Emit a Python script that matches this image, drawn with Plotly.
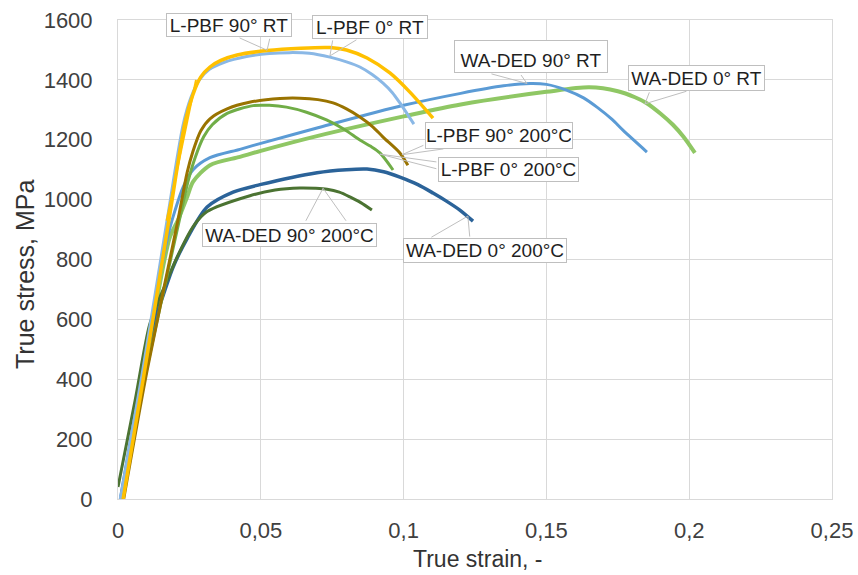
import plotly.graph_objects as go

# ---------------- data (true strain [-], true stress [MPa]) ----------------
lpbf90_rt_strain = [0.0018, 0.0090, 0.0178, 0.0235, 0.0262, 0.0290, 0.0322, 0.0360, 0.0417, 0.0522,
                    0.0640, 0.0742, 0.0800, 0.0872, 0.0952, 0.1022, 0.1103]
lpbf90_rt_stress = [0, 410, 930, 1260, 1350, 1410, 1443, 1465, 1483, 1498,
                    1506, 1508, 1500, 1473, 1423, 1359, 1272]
lpbf90_rt_elastic_strain = [0.0170, 0.0273]
lpbf90_rt_elastic_stress = [930, 1400]

lpbf0_rt_strain = [0.0008, 0.0085, 0.0170, 0.0228, 0.0255, 0.0285, 0.0320, 0.0370, 0.0450, 0.0530,
                   0.0600, 0.0670, 0.0742, 0.0800, 0.0847, 0.0890, 0.0928, 0.0960, 0.0987, 0.1036]
lpbf0_rt_stress = [0, 420, 920, 1250, 1340, 1400, 1435, 1458, 1478, 1488,
                   1491, 1489, 1476, 1460, 1443, 1418, 1389, 1358, 1323, 1252]

lpbf90_200_strain = [0.0020, 0.0100, 0.0210, 0.0242, 0.0262, 0.0290, 0.0322, 0.0382, 0.0460, 0.0567,
                     0.0637, 0.0700, 0.0753, 0.0800, 0.0847, 0.0890, 0.0928, 0.0987, 0.1015]
lpbf90_200_stress = [0, 420, 932, 1090, 1160, 1230, 1270, 1303, 1325, 1338,
                     1339, 1334, 1323, 1303, 1276, 1245, 1209, 1156, 1115]

lpbf0_200_strain = [0.0015, 0.0100, 0.0215, 0.0245, 0.0270, 0.0300, 0.0330, 0.0382, 0.0473, 0.0530,
                    0.0590, 0.0660, 0.0730, 0.0790, 0.0847, 0.0885, 0.0917, 0.0963]
lpbf0_200_stress = [0, 430, 932, 1060, 1140, 1210, 1250, 1288, 1314, 1315,
                    1309, 1292, 1266, 1236, 1199, 1178, 1156, 1099]

waded90_rt_strain = [0.0008, 0.0090, 0.0175, 0.0200, 0.0228, 0.0263, 0.0322, 0.0427, 0.0500, 0.0700,
                     0.1000, 0.1200, 0.1350, 0.1443, 0.1500, 0.1570, 0.1630, 0.1677, 0.1730,
                     0.1768, 0.1852]
waded90_rt_stress = [0, 450, 880, 965, 1042, 1100, 1140, 1168, 1188, 1240,
                     1315, 1355, 1380, 1388, 1385, 1366, 1340, 1309, 1268,
                     1232, 1159]

waded0_rt_strain = [0.0012, 0.0095, 0.0180, 0.0210, 0.0242, 0.0263, 0.0322, 0.0427, 0.0500, 0.0700,
                    0.1000, 0.1200, 0.1500, 0.1650, 0.1750, 0.1810, 0.1850, 0.1900, 0.1943, 0.1980,
                    0.2020]
waded0_rt_stress = [0, 440, 870, 932, 1009, 1060, 1115, 1143, 1163, 1213,
                    1278, 1318, 1360, 1375, 1362, 1342, 1323, 1287, 1250, 1210,
                    1156]

waded0_200_strain = [0.0012, 0.0090, 0.0130, 0.0158, 0.0193, 0.0242, 0.0312, 0.0403, 0.0497, 0.0697,
                     0.0800, 0.0872, 0.0930, 0.0987, 0.1050, 0.1103, 0.1150, 0.1197, 0.1243]
waded0_200_stress = [10, 420, 600, 680, 775, 870, 975, 1025, 1050, 1090,
                     1100, 1102, 1093, 1075, 1050, 1022, 995, 965, 928]

waded90_200_strain = [0.0000, 0.0060, 0.0110, 0.0145, 0.0172, 0.0207, 0.0263, 0.0312, 0.0462, 0.0550,
                      0.0637, 0.0690, 0.0732, 0.0775, 0.0812, 0.0850, 0.0889]
waded90_200_stress = [40, 330, 580, 670, 730, 808, 910, 960, 1013, 1032,
                      1039, 1038, 1035, 1025, 1009, 990, 965]

x_tick_vals = [0, 0.05, 0.10, 0.15, 0.20, 0.25]
x_tick_text = ["0", "0,05", "0,1", "0,15", "0,2", "0,25"]
y_tick_vals = [0, 200, 400, 600, 800, 1000, 1200, 1400, 1600]

# ---------------- figure ----------------
series = [
    ("WA-DED 0° RT", waded0_rt_strain, waded0_rt_stress, "#8FC764", 4.0),
    ("WA-DED 90° RT", waded90_rt_strain, waded90_rt_stress, "#5B9BD5", 3.0),
    ("WA-DED 0° 200°C", waded0_200_strain, waded0_200_stress, "#2B6399", 3.5),
    ("WA-DED 90° 200°C", waded90_200_strain, waded90_200_stress, "#4B7332", 3.0),
    ("L-PBF 0° 200°C", lpbf0_200_strain, lpbf0_200_stress, "#70AD47", 3.0),
    ("L-PBF 90° 200°C", lpbf90_200_strain, lpbf90_200_stress, "#997300", 3.0),
    ("L-PBF 0° RT", lpbf0_rt_strain, lpbf0_rt_stress, "#8AB8E6", 3.0),
    ("L-PBF 90° RT", lpbf90_rt_strain, lpbf90_rt_stress, "#FFC000", 3.5),
]

fig = go.Figure()
for name, xs, ys, col, w in series:
    fig.add_trace(go.Scatter(x=xs, y=ys, mode="lines", name=name,
                             line=dict(color=col, width=w, shape="spline", smoothing=0.8)))
fig.add_trace(go.Scatter(x=lpbf90_rt_elastic_strain, y=lpbf90_rt_elastic_stress, mode="lines",
                         name="L-PBF 90° RT (elastic)", line=dict(color="#FFC000", width=2)))

# callouts: label, tip (data), box centre offset (px), box size (px), wedge base offsets (px)
callouts = [
    ("L-PBF 90° RT", 0.0522, 1499, (-38, -25), (126, 24), [(-29, -13), (3, -13)]),
    ("L-PBF 0° RT", 0.0742, 1480, (40, -29), (116, 24), [(3, -17), (28, -17)]),
    ("WA-DED 90° RT", 0.1432, 1388, (4, -26.5), (154, 33), [(-37, -10), (-7, -10)]),
    ("WA-DED 0° RT", 0.1845, 1320, (51.5, -26), (137, 26), [(5, -13), (43, -13)]),
    ("L-PBF 90° 200°C", 0.0994, 1150, (97, -19.5), (148, 27), [(23, -10), (43, -6)]),
    ("L-PBF 0° 200°C", 0.0917, 1152, (128.5, 15.5), (141, 25), [(58, 8), (58, 15)]),
    ("WA-DED 90° 200°C", 0.0718, 1038, (-33.5, 47), (175, 24), [(-18, 34), (24, 34)]),
    ("WA-DED 0° 200°C", 0.1225, 945, (17, 34.5), (164, 25), [(-38, 22), (2, 22)]),
]

annotations = []
for label, tx, ty, (dx, dy), (bw, bh), bases in callouts:
    for bx, by in bases:
        annotations.append(dict(x=tx, y=ty, xref="x", yref="y", text="", showarrow=True,
                                arrowhead=0, arrowwidth=1, arrowcolor="#BFBFBF",
                                ax=bx, ay=by, standoff=0, font=dict(size=1)))
for label, tx, ty, (dx, dy), (bw, bh), bases in callouts:
    pad = 1
    annotations.append(dict(x=tx, y=ty, xref="x", yref="y", text=label, showarrow=False,
                            xanchor="center", yanchor="middle", xshift=dx, yshift=-dy,
                            bgcolor="white", bordercolor="#BFBFBF", borderwidth=1, borderpad=pad,
                            width=bw - 2 * pad - 2, height=bh - 2 * pad - 2, align="center",
                            valign="bottom" if bh > 30 else "middle",
                            font=dict(size=19, color="#1F1F1F")))

# axis titles
annotations.append(dict(text="True strain, -", xref="paper", yref="paper", x=0.5, y=0,
                        xshift=2.5, yshift=-60, xanchor="center", yanchor="middle",
                        showarrow=False, font=dict(size=23, color="#333333")))
annotations.append(dict(text="True stress, MPa", xref="paper", yref="paper", x=0, y=0.4676,
                        xshift=-93, xanchor="center", yanchor="middle", textangle=-90,
                        showarrow=False, font=dict(size=25, color="#333333")))

axis_common = dict(showgrid=True, gridcolor="#D9D9D9", gridwidth=1, zeroline=False,
                   showline=True, linecolor="#D9D9D9", linewidth=1, mirror=True, ticks="",
                   automargin=False, ticklabeloverflow="allow",
                   tickfont=dict(size=22, color="#404040"))

fig.update_layout(
    width=858, height=575,
    margin=dict(l=118, r=26, t=20, b=76, autoexpand=False),
    paper_bgcolor="white", plot_bgcolor="white",
    font=dict(family="Liberation Sans, Arial, sans-serif"),
    showlegend=False,
    xaxis=dict(range=[0, 0.25], tickvals=x_tick_vals, ticktext=x_tick_text,
               ticklabelstandoff=12, **axis_common),
    yaxis=dict(range=[0, 1600], tickvals=y_tick_vals, ticklabelstandoff=20, **axis_common),
    annotations=annotations,
)

# remove the browser's default 8 px body margin so the figure fills the window exactly
fig.write_html("out.html", config={"displayModeBar": False},
               post_script="document.body.style.margin='0';document.body.style.overflow='hidden';")
